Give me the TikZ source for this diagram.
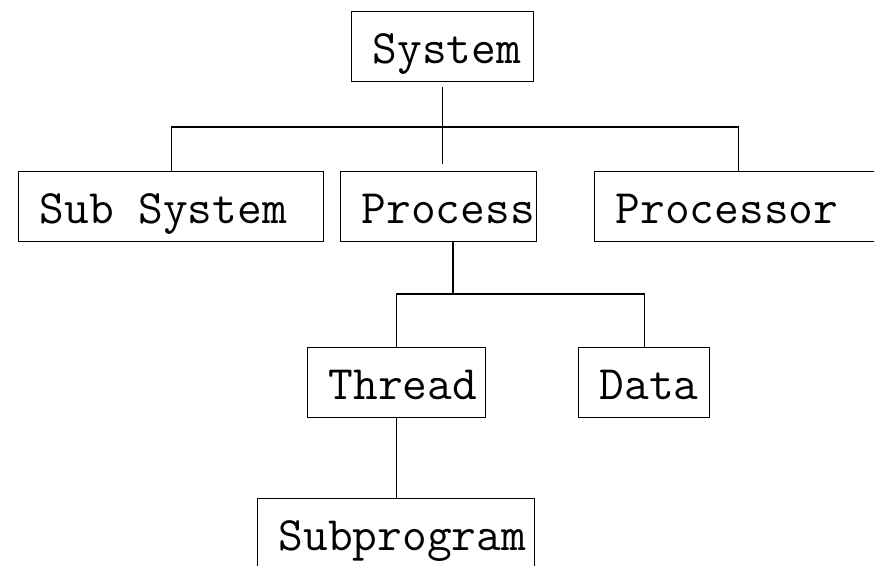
\documentclass[tikz,border=0pt]{standalone}
\usepackage{fontspec}
\newcommand{\bxt}[2]{\makebox[#1][l]{\hspace*{21pt}#2}}
\begin{document}
\begin{tikzpicture}[x=1pt,y=-1pt,
  box/.style={draw, line width=1.4pt, anchor=north west, inner sep=0pt,
    minimum height=70pt, text height=40pt, text depth=6pt,
    font=\ttfamily\fontsize{48}{56}\selectfont},
  wire/.style={draw, line width=1.4pt}]
\useasboundingbox (0,0) rectangle (874,565);
\clip (0,0) rectangle (874,565);
\fill[white] (0,0) rectangle (874,565);
\node[box] (System) at (351,11) {\bxt{182pt}{System}};
\node[box] (SubSystem) at (18,171) {\bxt{305pt}{Sub System}};
\node[box] (Process) at (340,171) {\bxt{196pt}{Process}};
\node[box] (Processor) at (594,171) {\bxt{288pt}{Processor}};
\node[box] (Thread) at (307,347) {\bxt{178pt}{Thread}};
\node[box] (Data) at (578,347) {\bxt{131pt}{Data}};
\node[box] (Subprogram) at (257,498) {\bxt{277pt}{Subprogram}};
\coordinate (bus1) at (443,127);
\coordinate (bus2) at (453,294);
\draw[wire, shorten <=5pt, shorten >=7pt] (System.south) -- (System.south |- Process.north);
\draw[wire] (SubSystem.north) |- (bus1) -| (Processor.north);
\draw[wire] (Process.south -| bus2) -- (bus2);
\draw[wire] (Thread.north) |- (bus2) -| (Data.north);
\draw[wire] (Thread.south) -- (Thread.south |- Subprogram.north);
\end{tikzpicture}
\end{document}
